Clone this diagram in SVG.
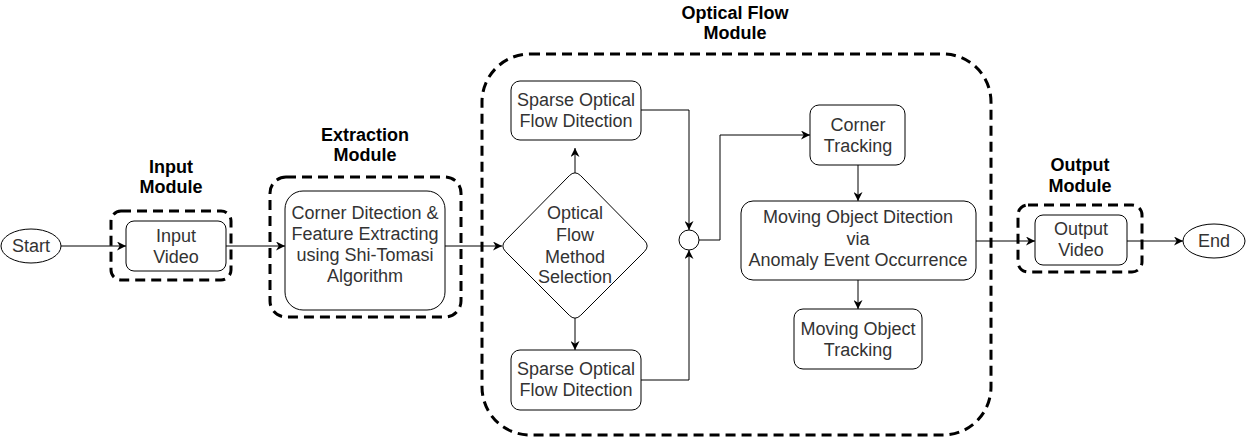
<svg xmlns="http://www.w3.org/2000/svg" width="1246" height="438" viewBox="0 0 1246 438">
<defs>
<style>
.node{fill:#ffffff;stroke:#000000;stroke-width:1}
.grp{fill:none;stroke:#000000;stroke-width:3;stroke-dasharray:10 6}
.t{font-family:"Liberation Sans",Arial,sans-serif;font-size:18px;fill:#333333;text-anchor:middle}
.h{font-family:"Liberation Sans",Arial,sans-serif;font-size:18px;font-weight:bold;fill:#000000;text-anchor:middle}
.c{fill:none;stroke:#000000;stroke-width:1}
</style>
<marker id="arr" viewBox="0 0 10 10" refX="10" refY="5" markerWidth="9" markerHeight="9" markerUnits="userSpaceOnUse" orient="auto">
<path d="M0,0 L10,5 L0,10 L3,5 z" fill="#000000"/>
</marker>
</defs>
<rect width="1246" height="438" fill="#ffffff"/>

<g id="group-input">
<rect class="grp" x="111" y="211" width="120" height="69" rx="10"/>
<text class="h" x="171" y="173">Input</text>
<text class="h" x="171" y="193">Module</text>
</g>
<g id="group-extraction">
<rect class="grp" x="270" y="177" width="191" height="140" rx="16"/>
<text class="h" x="365" y="141">Extraction</text>
<text class="h" x="365" y="161">Module</text>
</g>
<g id="group-optical">
<rect class="grp" x="482" y="54" width="509" height="381" rx="48"/>
<text class="h" x="735" y="19">Optical Flow</text>
<text class="h" x="735" y="39">Module</text>
</g>
<g id="group-output">
<rect class="grp" x="1018" y="205" width="124" height="67" rx="10"/>
<text class="h" x="1080" y="171">Output</text>
<text class="h" x="1080" y="192">Module</text>
</g>

<g id="connectors">
<path class="c" d="M61,246 L126,246" marker-end="url(#arr)"/>
<path class="c" d="M226,246 L285,246" marker-end="url(#arr)"/>
<path class="c" d="M445,246 L502,246" marker-end="url(#arr)"/>
<path class="c" d="M575,173 L575,148" marker-end="url(#arr)"/>
<path class="c" d="M575,318 L575,350" marker-end="url(#arr)"/>
<path class="c" d="M641,110 L689,110 L689,230" marker-end="url(#arr)"/>
<path class="c" d="M641,380 L689,380 L689,250" marker-end="url(#arr)"/>
<path class="c" d="M699,240 L720,240 L720,135 L810,135" marker-end="url(#arr)"/>
<path class="c" d="M858,165 L858,201" marker-end="url(#arr)"/>
<path class="c" d="M858,280 L858,309" marker-end="url(#arr)"/>
<path class="c" d="M976,241 L1035,241" marker-end="url(#arr)"/>
<path class="c" d="M1127,241 L1183,241" marker-end="url(#arr)"/>
</g>

<g id="start">
<ellipse class="node" cx="31" cy="246" rx="30" ry="17"/>
<text class="t" x="31" y="252">Start</text>
</g>
<g id="input-video">
<rect class="node" x="126" y="221" width="100" height="50" rx="8"/>
<text class="t" x="176" y="241.5">Input</text>
<text class="t" x="176" y="262.5">Video</text>
</g>
<g id="corner-detection">
<rect class="node" x="285" y="191" width="160" height="119" rx="18"/>
<text class="t" x="365" y="219">Corner Ditection &amp;</text>
<text class="t" x="365" y="240">Feature Extracting</text>
<text class="t" x="365" y="261">using Shi-Tomasi</text>
<text class="t" x="365" y="282">Algorithm</text>
</g>
<g id="method-selection">
<path class="node" d="M569.3,175.7 Q575,170 580.7,175.7 L644.3,240.3 Q650,246 644.3,251.7 L580.7,315.3 Q575,321 569.3,315.3 L505.7,251.7 Q500,246 505.7,240.3 Z"/>
<text class="t" x="575" y="219">Optical</text>
<text class="t" x="575" y="241">Flow</text>
<text class="t" x="575" y="262.5">Method</text>
<text class="t" x="575" y="283">Selection</text>
</g>
<g id="sparse-top">
<rect class="node" x="511" y="81" width="130" height="59" rx="9"/>
<text class="t" x="576" y="106">Sparse Optical</text>
<text class="t" x="576" y="127">Flow Ditection</text>
</g>
<g id="sparse-bottom">
<rect class="node" x="511" y="350" width="130" height="60" rx="9"/>
<text class="t" x="576" y="374.5">Sparse Optical</text>
<text class="t" x="576" y="396">Flow Ditection</text>
</g>
<g id="junction">
<circle class="node" cx="689" cy="240" r="10"/>
</g>
<g id="corner-tracking">
<rect class="node" x="810" y="105" width="95" height="60" rx="9"/>
<text class="t" x="858" y="130.5">Corner</text>
<text class="t" x="858" y="152">Tracking</text>
</g>
<g id="moving-detection">
<rect class="node" x="741" y="201" width="235" height="79" rx="12"/>
<text class="t" x="858" y="223">Moving Object Ditection</text>
<text class="t" x="858" y="245">via</text>
<text class="t" x="858" y="266">Anomaly Event Occurrence</text>
</g>
<g id="moving-tracking">
<rect class="node" x="794" y="309" width="128" height="60" rx="9"/>
<text class="t" x="858" y="334.5">Moving Object</text>
<text class="t" x="858" y="356">Tracking</text>
</g>
<g id="output-video">
<rect class="node" x="1035" y="215" width="92" height="50" rx="8"/>
<text class="t" x="1081" y="234.5">Output</text>
<text class="t" x="1081" y="256">Video</text>
</g>
<g id="end">
<ellipse class="node" cx="1214" cy="241" rx="31" ry="17"/>
<text class="t" x="1214" y="247">End</text>
</g>
</svg>
